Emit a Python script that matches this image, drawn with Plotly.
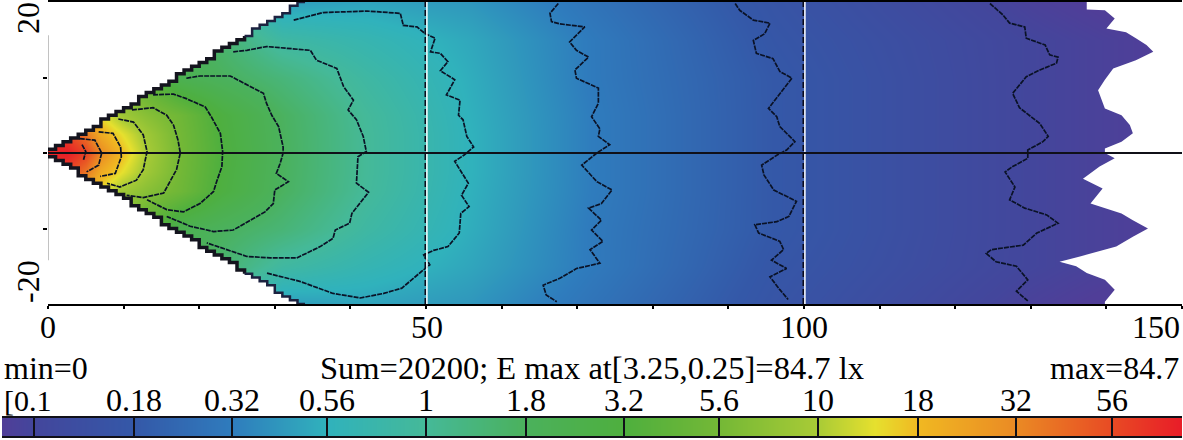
import numpy as np
import plotly.graph_objects as go

# illuminance table (lx), rows = y, columns = x
grid_x = [0, 2.5, 5, 7, 9.8, 13, 17.5, 23, 31, 42, 56, 72, 96, 130, 150]
grid_y = [20, 15, 10, 5, 2.5, 0, -2.5, -5, -10, -15, -20]
grid_lux = [
    [3, 3, 3, 3, 3, 2, 1.5, 1, 0.45, 0.48, 0.42, 0.28, 0.16, 0.09, 0.07],
    [5, 5, 5, 5, 4, 3, 2, 1.5, 0.85, 0.68, 0.5, 0.31, 0.17, 0.1, 0.08],
    [9, 9, 9, 9, 6, 4, 2.2, 1.8, 1.35, 0.85, 0.53, 0.31, 0.18, 0.1, 0.08],
    [25, 25, 20, 14, 9, 7, 5.2, 3, 1.75, 0.98, 0.55, 0.32, 0.18, 0.1, 0.08],
    [55, 60, 38, 21, 14, 9, 5.5, 3.1, 1.78, 1, 0.56, 0.32, 0.18, 0.1, 0.08],
    [80, 84, 60, 32, 18, 10, 5.6, 3.2, 1.8, 1, 0.56, 0.32, 0.18, 0.1, 0.08],
    [55, 60, 38, 21, 14, 9, 5.5, 3.1, 1.78, 1, 0.56, 0.32, 0.18, 0.1, 0.08],
    [25, 25, 20, 14, 9, 7, 5.2, 3, 1.75, 0.98, 0.55, 0.32, 0.18, 0.1, 0.08],
    [9, 9, 9, 9, 6, 4, 2.2, 1.8, 1.4, 0.85, 0.53, 0.31, 0.18, 0.1, 0.08],
    [5, 5, 5, 5, 4, 3, 2, 1.5, 0.88, 0.66, 0.49, 0.31, 0.17, 0.1, 0.08],
    [3, 3, 3, 3, 3, 2, 1.5, 1, 0.45, 0.48, 0.42, 0.28, 0.16, 0.09, 0.07],
]

# colour legend
legend_levels = [0.1, 0.18, 0.32, 0.56, 1, 1.8, 3.2, 5.6, 10, 18, 32, 56]
legend_labels = ["", "0.18", "0.32", "0.56", "1", "1.8", "3.2", "5.6", "10", "18", "32", "56"]
lux_min = 0.083
lux_max = 84.7
color_lux = [0.083, 0.1, 0.18, 0.32, 0.56, 1, 1.8, 3.2, 5.6, 10, 14, 18, 32, 56, 84.7]
color_hex = ["#503e98", "#43469c", "#3458a8", "#2f7cbd", "#30b2bc", "#45b998", "#4bb15c",
             "#4eaf3e", "#74b836", "#a9cb36", "#e6e02e", "#f0b822", "#ea8a24", "#e84a24", "#e81c28"]

# edges of the lit region
wedge_x = list(range(35))
wedge_top = [0.5, 1, 1.5, 2, 2.5, 3, 3.5, 4.5, 5, 5.5, 6, 6.5, 7.5, 8, 8.5, 9, 9.5, 10.5, 11, 11.5,
             12, 12.5, 13.5, 14, 14.5, 15, 15.5, 16.5, 17, 17.5, 18, 18.5, 19.5, 20, 20]
wedge_bottom = [-0.5, -1, -1.5, -2, -3, -3.5, -4, -4.5, -5, -5.5, -6, -7, -7.5, -8, -8.5, -9.5, -10,
                -10.5, -11, -11.5, -12.5, -13, -13.5, -14, -14.5, -15.5, -16, -16.5, -17, -17.5,
                -18.5, -19, -19.5, -20, -20]
edge_x = [137.4, 137.4, 139.8, 141.1, 140, 142.6, 143.9, 145.3, 146.2, 143.9, 140.9, 139.8, 138.9,
          139.8, 142, 143.1, 143.5, 142, 139.8, 139.8, 141.1, 139.1, 136.9, 139.5, 137.9, 142, 143.5,
          145.5, 143.5, 141.3, 136.5, 133.8, 136, 137.4, 139.8, 141.1, 139.8, 139.8]
edge_y = [20, 19, 18.9, 17.8, 16.5, 16, 15.2, 14.3, 13.4, 12.3, 11.2, 9.7, 8.3, 5.9, 5, 3.7, 2.6,
          1.5, 0.6, 0, -0.7, -1.8, -3.4, -4.7, -6.7, -8, -8.9, -10, -11.1, -12.4, -13.7, -14.4, -15,
          -15.9, -16.8, -18.1, -19.7, -20]

# contour lines
c56_x = [4.5, 5.0, 4.7]
c56_y = [1.1, 0.2, -0.9]
c32_x = [4.2, 6.2, 7.1, 6.7, 5.1]
c32_y = [1.9, 1.7, 0, -1.6, -2.5]
c18_x = [6.7, 8.6, 9.6, 9.7, 8.9, 6.9]
c18_y = [2.8, 2.6, 0.8, -0.5, -2.7, -3.1]
c10_x = [9.3, 11.3, 12.6, 13.1, 12.6, 11.7, 9.5, 7.8]
c10_y = [4.5, 4.1, 2.4, 0.2, -2.2, -3.6, -4.5, -4.0]
c5_x = [11.1, 13.9, 15.7, 16.6, 17.2, 17.5, 17.0, 16.1, 15.3, 12.6, 10.4]
c5_y = [5.7, 6.0, 5.0, 3.7, 1.7, 0, -2.2, -3.8, -5.3, -5.9, -5.6]
c3_x = [13.9, 16.6, 18.3, 20.8, 21.6, 22.8, 23.1, 23.0, 22.3, 21.9, 20.1, 17.9, 15.7, 13.1]
c3_y = [7.7, 7.8, 7.2, 6.1, 4.8, 2.6, 0.2, -1.8, -3.8, -5.1, -6.7, -7.8, -7.5, -6.2]
c1_8_x = [18.3, 20.1, 24.1, 27.2, 28.5, 28.9, 29.6, 30.5, 31.1, 31.1, 30.7, 30.2, 31.8, 30.0, 29.8,
          28.7, 26.5, 24.5, 21.9, 18.8, 15.7]
c1_8_y = [9.9, 10.2, 10.2, 8.6, 7.9, 6.6, 5.0, 3.5, 0.8, 0, -1.4, -2.7, -3.8, -4.9, -6.7,
          -7.8, -9.1, -10.2, -10.4, -9.7, -8.4]
c1_x = [24.5, 26.3, 28.9, 34.7, 35.5, 38.2, 39.1, 40.4, 39.7, 40.8, 41.7, 42.1, 41.0, 40.8, 42.4,
        40.2, 39.9, 38.0, 37.7, 36.0, 32.9, 29.4, 26.3, 21]
c1_y = [13.4, 13.6, 14.1, 13.6, 12.3, 11.2, 8.8, 7.0, 5.7, 4.4, 2.2, 0.2, -0.5, -4.0, -5.2,
        -8.0, -9.3, -10.2, -11.3, -12.4, -13.9, -13.9, -13.7, -11.9]
c056_x = [32.5, 36.4, 42.2, 46.6, 47, 48.8, 49.9, 51.2, 50.6, 51.9, 52.9, 51.9, 53.8, 52.7, 54.5,
          54.3, 54.9, 55.4, 56.3, 55, 53.8, 55.6, 54.7, 55.7, 54.6, 54.4, 52.9, 51, 49.7, 50.5,
          49.4, 48.3, 46.8, 44.4, 41.3, 37.7, 33.3, 28.9]
c056_y = [17.6, 18.6, 18.8, 18.5, 16.9, 16.7, 15.8, 15.2, 13.4, 13.2, 12.1, 10.9, 9.7, 7.7, 7.0,
          5.0, 4.4, 2.2, 0.8, -0.3, -1.1, -4.0, -5.6, -7.1, -8.0, -10.6, -12.4, -12.9, -13.5, -14.8,
          -15.7, -16.6, -17.9, -18.6, -19.2, -18.6, -17.0, -15.9]
c032_x = [67.5, 66.4, 66.6, 67.7, 71.0, 69.0, 69.9, 71.5, 69.7, 69.9, 72.8, 72.8, 71.9, 73.0, 72.8,
          74.3, 72.6, 70.6, 72.6, 74.6, 73.2, 71.5, 73.2, 71.9, 73.4, 71.7, 73, 69.9, 67.7, 65.5,
          65.9, 67.3]
c032_y = [19.8, 18.5, 17.4, 17.1, 16.7, 14.7, 13.6, 12.7, 11.0, 9.9, 8.6, 6.6, 4.8, 3.2, 2.2,
          1.1, 0, -1.6, -3.8, -4.9, -6.7, -7.3, -8.9, -10.2, -11.7, -12.8, -14.6, -15.3, -16.6, -17.5,
          -18.8, -19.7]
c018_x = [90.9, 91.5, 93.3, 95.5, 94.8, 93.3, 93.7, 95.9, 96.8, 98.4, 97, 95.3, 96.4, 96.8, 98.8,
          97.7, 96.4, 94.4, 94.7, 96, 99.0, 98, 96.4, 93.5, 94, 96.8, 97.3, 95.7, 97.7, 95.5,
          96.8, 97.9]
c018_y = [19.8, 18.9, 17.6, 17.2, 15.8, 14.9, 13.2, 12.5, 10.8, 9.9, 8.1, 5.9, 4.8, 3.5, 1.5,
          0.4, -0.3, -1.6, -2.9, -4.9, -6.4, -8.4, -9.1, -9.5, -10.6, -11.7, -12.8, -14.2, -15.3, -16.4,
          -18.1, -19.4]
c01_x = [124.6, 126.3, 127.2, 129.2, 129.4, 131.9, 132.5, 133.6, 133.4, 131.2, 129.4, 127.6, 128.5,
         131.2, 132.3, 131.6, 129.6, 129.6, 127.6, 126.6, 127.9, 127.2, 129.2, 132.1, 133.6, 130.8,
         129, 124.8, 124.1, 125.4, 128.1, 129.6, 128.1, 129.6]
c01_y = [19.8, 18.3, 17.2, 16.7, 15.2, 14.3, 13, 12.7, 11.9, 11, 10.1, 7.9, 6,
         3.9, 2.2, 1.5, 0.4, -0.7, -1.8, -2.5, -4.5, -6.2, -7.3, -8.2, -9.3, -10.6,
         -12.2, -12.8, -13.3, -14.4, -15, -16.8, -18.3, -19.6]
contours = [(c56_x, c56_y), (c32_x, c32_y), (c18_x, c18_y), (c10_x, c10_y), (c5_x, c5_y), (c3_x, c3_y),
            (c1_8_x, c1_8_y), (c1_x, c1_y), (c056_x, c056_y), (c032_x, c032_y), (c018_x, c018_y), (c01_x, c01_y)]

FONT = "Liberation Serif"
W, H = 1183, 440

cmin = np.log10(lux_min)
cmax = np.log10(lux_max)
colorscale = [[(np.log10(v) - cmin) / (cmax - cmin), c] for v, c in zip(color_lux, color_hex)]

fig = go.Figure()

# illuminance field
fig.add_trace(go.Heatmap(x=grid_x, y=grid_y, z=np.log10(grid_lux), zsmooth="best", colorscale=colorscale,
                         zmin=cmin, zmax=cmax, showscale=False, hoverinfo="skip"))

# white outside the lit region
fig.add_trace(go.Scatter(x=wedge_x + [34, 0], y=wedge_top + [20, 20], mode="lines", fill="toself",
                         fillcolor="white", line=dict(width=0, shape="hv", color="white")))
fig.add_trace(go.Scatter(x=wedge_x + [34, 0], y=wedge_bottom + [-20, -20], mode="lines", fill="toself",
                         fillcolor="white", line=dict(width=0, shape="hv", color="white")))
fig.add_trace(go.Scatter(x=edge_x + [150, 150], y=edge_y + [-20, 20], mode="lines", fill="toself",
                         fillcolor="white", line=dict(width=0, color="white")))

# stepped dark border of the wedge, heavy near the source and thinner further out
for ys in (wedge_top, wedge_bottom):
    fig.add_trace(go.Scatter(x=wedge_x[:27], y=ys[:27], mode="lines", line=dict(color="#14141e", width=3.5, shape="hv")))
    fig.add_trace(go.Scatter(x=wedge_x[26:], y=ys[26:], mode="lines", line=dict(color="#1c2240", width=2.5, shape="hv")))

for cx, cy in contours:
    fig.add_trace(go.Scatter(x=cx, y=cy, mode="lines", line=dict(color="#0a1226", width=1.7, dash="5px,1px")))

# reference lines at 50 and 100
for xv in (50, 100):
    fig.add_trace(go.Scatter(x=[xv + 0.12, xv + 0.12], y=[-20, 20], mode="lines", line=dict(color="white", width=1.5)))
    fig.add_trace(go.Scatter(x=[xv - 0.1, xv - 0.1], y=[-20, 20], mode="lines",
                             line=dict(color="#0a0a1a", width=1.5, dash="6px,3px")))

fig.add_trace(go.Scatter(x=[0, 150], y=[0, 0], mode="lines", line=dict(color="#101018", width=2)))
# y axis only runs between the two rotated labels
fig.add_trace(go.Scatter(x=[-0.1, -0.1], y=[15.6, -14.2], mode="lines", cliponaxis=False,
                         line=dict(color="black", width=2)))

# legend bar
legend_x = np.log10(color_lux)
fig.add_trace(go.Heatmap(x=legend_x, y=[0, 1], z=[legend_x, legend_x], zsmooth="best", colorscale=colorscale,
                         zmin=cmin, zmax=cmax, showscale=False, xaxis="x2", yaxis="y2", hoverinfo="skip"))

fig.update_layout(
    width=W, height=H, margin=dict(l=0, r=0, t=0, b=0),
    paper_bgcolor="white", plot_bgcolor="white", showlegend=False,
    font=dict(family=FONT, size=32, color="black"),
    xaxis=dict(domain=[48 / W, 1182 / W], range=[0, 150], anchor="y", showgrid=False, zeroline=False,
               showline=True, mirror=True, linecolor="black", linewidth=2,
               ticks="outside", ticklen=3, tickwidth=1.5, tickcolor="black",
               tickvals=list(range(0, 151, 10)), showticklabels=False),
    yaxis=dict(domain=[(H - 304) / H, (H - 2) / H], range=[-20, 20], anchor="x", showgrid=False, zeroline=False,
               ticks="outside", ticklen=4, tickwidth=1.5, tickcolor="black",
               tickvals=[-10, 0, 10], showticklabels=False),
    xaxis2=dict(domain=[2 / W, 1182 / W], range=[cmin, cmax], anchor="y2", showgrid=False, zeroline=False,
                showline=True, mirror=True, linecolor="#101018", linewidth=2,
                ticks="inside", ticklen=18, tickwidth=2, tickcolor="#101018",
                tickvals=np.log10(legend_levels).tolist(), showticklabels=False),
    yaxis2=dict(domain=[(H - 436) / H, (H - 418) / H], range=[0, 1], anchor="x2", showgrid=False, zeroline=False,
                showticklabels=False, ticks=""),
)

# texts, px positions converted to paper
def note(text, px, py, xanchor="center", angle=0, size=32):
    fig.add_annotation(text=text, x=px / W, y=(H - py) / H, xref="paper", yref="paper", xanchor=xanchor,
                       yanchor="middle", showarrow=False, textangle=angle, font=dict(family=FONT, size=size))

note("20", 28, 18, angle=-90)
note("-20", 28, 282, angle=-90)
note("0", 48, 327)
note("50", 427, 327)
note("100", 804, 327)
note("150", 1182, 327, xanchor="right")
note("min=0", 2, 368, xanchor="left")
note("Sum=20200; E max at[3.25,0.25]=84.7 lx", 592, 368, size=32.5)
note("max=84.7", 1181, 368, xanchor="right")
note("[0.1", 2, 400, xanchor="left", size=30)
for lev, lab in zip(legend_levels[1:], legend_labels[1:]):
    fig.add_annotation(text=lab, x=np.log10(lev), xref="x2", y=(H - 400) / H, yref="paper", yanchor="middle",
                       showarrow=False, font=dict(family=FONT, size=32))

fig.write_html("out.html", config={"displayModeBar": False},
               post_script="document.body.style.margin='0';document.documentElement.style.overflow='hidden';")
